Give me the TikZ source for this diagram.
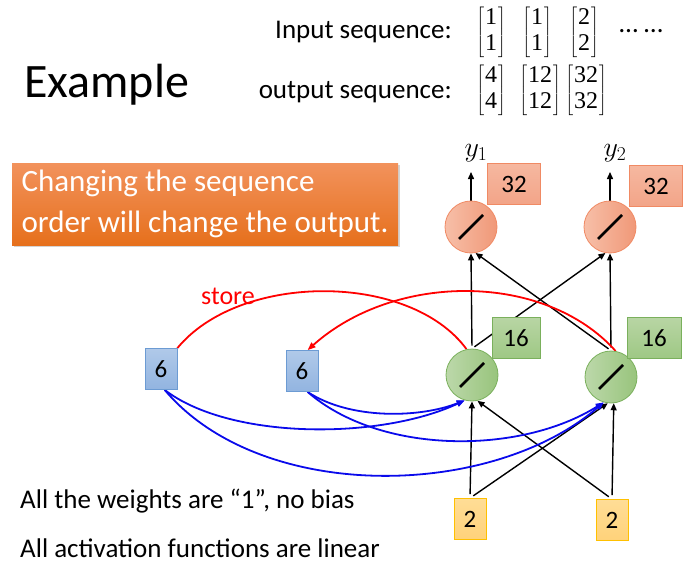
\RequirePackage{fix-cm}
\documentclass[tikz,border=0pt]{standalone}
\usepackage{amsmath}
\usepackage{fontspec}
\setmainfont{Carlito}
\newfontfamily\numfont{Liberation Serif}
\usetikzlibrary{arrows.meta,shadows,positioning}
\pgfdeclarelayer{back}
\pgfsetlayers{back,main}
\definecolor{salL}{RGB}{247,191,168}
\definecolor{salR}{RGB}{240,152,120}
\definecolor{salT}{RGB}{246,184,160}
\definecolor{salB}{RGB}{242,164,136}
\definecolor{salBd}{RGB}{240,138,100}
\definecolor{grnL}{RGB}{188,216,170}
\definecolor{grnR}{RGB}{152,196,124}
\definecolor{grnT}{RGB}{184,213,164}
\definecolor{grnB}{RGB}{158,200,132}
\definecolor{grnBd}{RGB}{122,176,92}
\definecolor{bluT}{RGB}{176,201,233}
\definecolor{bluB}{RGB}{146,180,224}
\definecolor{bluBd}{RGB}{108,155,211}
\definecolor{yelT}{RGB}{255,221,150}
\definecolor{yelB}{RGB}{255,210,122}
\definecolor{yelBd}{RGB}{255,192,0}
\definecolor{orgT}{RGB}{242,146,92}
\definecolor{orgB}{RGB}{230,112,28}
\definecolor{linkblue}{RGB}{10,10,235}
\newcommand{\colvec}[2]{{\fontsize{12}{14}\selectfont$\left[\vcenter{\hbox{\fontsize{24}{30}\selectfont\numfont\renewcommand{\arraystretch}{0.88}\begin{tabular}{@{\kern1pt}c@{\kern1pt}}#1\\#2\end{tabular}}}\right]$}}

\begin{document}
\begin{tikzpicture}[x=1pt,y=-1pt,
  font=\fontsize{27}{32}\selectfont,
  neuron/.style={circle,minimum size=52pt,inner sep=0pt,line width=0.8pt,
    path picture={\draw[black,line width=2.6pt] ([shift={(-12pt,-12pt)}]path picture bounding box.center) -- ([shift={(12pt,12pt)}]path picture bounding box.center);}},
  oneu/.style={neuron,draw=salBd,left color=salL,right color=salR},
  hneu/.style={neuron,draw=grnBd,left color=grnL,right color=grnR},
  val/.style={inner sep=0pt,line width=0.8pt,minimum height=41pt,font=\fontsize{25}{30}\selectfont},
  obox/.style={val,draw=salBd,top color=salT,bottom color=salB,minimum width=53pt},
  hbox/.style={val,draw=grnBd,top color=grnT,bottom color=grnB},
  mbox/.style={val,draw=bluBd,top color=bluT,bottom color=bluB,minimum width=32pt},
  ibox/.style={val,draw=yelBd,top color=yelT,bottom color=yelB,minimum width=32pt},
  vec/.style={inner sep=0pt},
  ylab/.style={anchor=south,inner sep=0pt,font=\fontsize{28}{32}\selectfont},
  note/.style={draw=none,top color=orgT,bottom color=orgB,text=white,align=left,
    minimum width=386pt,inner xsep=9pt,inner ysep=2pt,minimum height=82pt,font=\fontsize{31}{41}\selectfont,
    drop shadow={shadow xshift=2pt,shadow yshift=-2pt,opacity=0.35}},
  arr/.style={-{Triangle[length=7pt,width=6pt]},line width=1.4pt},
  barr/.style={-{Triangle[length=8pt,width=6pt]},line width=1.8pt,draw=linkblue},
  rarr/.style={line width=1.8pt,draw=red}]
\useasboundingbox (0,0) rectangle (696,575);
% ---------- title and sequences ----------
\node[anchor=west,inner sep=0pt,font=\fontsize{48}{58}\selectfont] (ttl) at (24,85) {Example};
\node[anchor=east,inner sep=0pt] (inlab) at (452,32) {Input sequence:};
\node[anchor=east,inner sep=0pt] (outlab) at (452,92) {output sequence:};
\node[vec] (iv1) at (491,32) {\colvec{1}{1}};
\node[vec] (iv2) at (537,32) {\colvec{1}{1}};
\node[vec] (iv3) at (584,32) {\colvec{2}{2}};
\node[inner sep=0pt] (dots) at (641,31) {\dots\ \dots};
\node[vec] (ov1) at (491,90) {\colvec{4}{4}};
\node[vec] (ov2) at (540,90) {\colvec{12}{12}};
\node[vec] (ov3) at (586,90) {\colvec{32}{32}};
% ---------- message ----------
\node[note] (msg) at (205,204) {Changing the sequence\\order will change the output.};
% ---------- network ----------
\node[oneu] (o1) at (471,227) {};
\node[oneu] (o2) at (610,227) {};
\node[hneu] (h1) at (472,375) {};
\node[hneu] (h2) at (611,377) {};
\node[obox] (v1) at (514,184) {32};
\node[obox] (v2) at (656,186) {32};
\node[hbox,minimum width=48pt] (s1) at (516,338) {16};
\node[hbox,minimum width=54pt] (s2) at (654,338) {16};
\node[mbox] (m1) at (161,369) {6};
\node[mbox] (m2) at (302,371) {6};
\node[ibox] (x1) at (470,519) {2};
\node[ibox] (x2) at (612,520) {2};
\node[ylab] (y1) at (476,162) {$y_1$};
\node[ylab] (y2) at (615,162) {$y_2$};
\node[text=red,font=\fontsize{26}{30}\selectfont] (st) at (228,296) {store};
\begin{pgfonlayer}{back}
\draw[arr,shorten <=4pt] (x1.north) -- (h1.south);
\draw[arr,shorten <=4pt] (x1.north) -- (h2.-97);
\draw[arr,shorten <=4pt] (x2.north) -- (h2.-84);
\draw[arr,shorten <=4pt] (x2.north) -- (h1.-78);
\draw[arr,shorten <=3pt] (h1.north) -- (o1.south);
\draw[arr,shorten <=3pt] (h1.north) -- (o2.-100);
\draw[arr,shorten <=3pt] (h2.north) -- (o2.south);
\draw[arr,shorten <=3pt] (h2.north) -- (o1.-80);
\draw[arr,shorten >=10pt] (o1.north) -- (o1.north|-y1.south);
\draw[arr,shorten >=10pt] (o2.north) -- (o2.north|-y2.south);
% memory
\draw[rarr] (m1.north east) .. controls (240,272) and (410,272) .. (h1.102);
\draw[rarr,-{Triangle[length=8pt,width=6pt]}] (h2.80) .. controls (545,272) and (395,272) .. (m2.75);
\draw[barr] (m1.-80) .. controls (230,440) and (380,440) .. (h1.-106);
\draw[barr] (m1.-80) .. controls (260,503) and (490,500) .. (h2.-106);
\draw[barr] (m2.-75) .. controls (350,420) and (420,418) .. (h1.-106);
\draw[barr] (m2.-75) .. controls (380,455) and (520,455) .. (h2.-106);
\end{pgfonlayer}
% ---------- notes ----------
\node[anchor=west,inner sep=0pt] (n1) at (20,501) {All the weights are “1”, no bias};
\node[anchor=west,inner sep=0pt] (n2) at (20,548) {All activation functions are linear};
\end{tikzpicture}
\end{document}
